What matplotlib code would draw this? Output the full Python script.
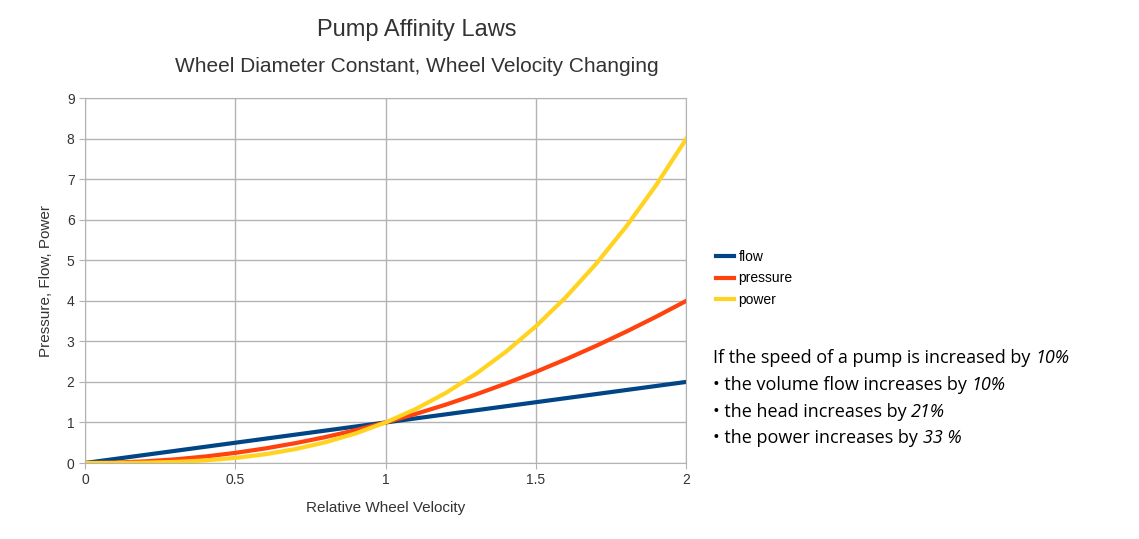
import matplotlib
matplotlib.use("Agg")
import matplotlib.pyplot as plt

# values
velocity = [0.0, 0.1, 0.2, 0.3, 0.4, 0.5, 0.6, 0.7, 0.8, 0.9, 1.0,
            1.1, 1.2, 1.3, 1.4, 1.5, 1.6, 1.7, 1.8, 1.9, 2.0]
flow = [0.0, 0.1, 0.2, 0.3, 0.4, 0.5, 0.6, 0.7, 0.8, 0.9, 1.0,
        1.1, 1.2, 1.3, 1.4, 1.5, 1.6, 1.7, 1.8, 1.9, 2.0]
pressure = [0.0, 0.01, 0.04, 0.09, 0.16, 0.25, 0.36, 0.49, 0.64, 0.81, 1.0,
            1.21, 1.44, 1.69, 1.96, 2.25, 2.56, 2.89, 3.24, 3.61, 4.0]
power = [0.0, 0.001, 0.008, 0.027, 0.064, 0.125, 0.216, 0.343, 0.512, 0.729, 1.0,
         1.331, 1.728, 2.197, 2.744, 3.375, 4.096, 4.913, 5.832, 6.859, 8.0]

series_names = ["flow", "pressure", "power"]
colors = ["#004586", "#ff420e", "#ffd320"]

notes = [
    ("If the speed of a pump is increased by ", "10%"),
    ("\u2022 the volume flow increases by ", "10%"),
    ("\u2022 the head increases by ", "21%"),
    ("\u2022 the power increases by ", "33 %"),
]

plt.rcParams["font.family"] = ["Liberation Sans", "DejaVu Sans"]

fig = plt.figure(figsize=(11.39, 5.39), dpi=100)
ax = fig.add_axes([0.0746, 0.141, 0.528, 0.677])

for ys, name, c in zip([flow, pressure, power], series_names, colors):
    ax.plot(velocity, ys, color=c, lw=3, label=name)

ax.set_xlim(0, 2)
ax.set_ylim(0, 9)
ax.set_xticks([0, 0.5, 1, 1.5, 2])
ax.set_xticklabels(["0", "0.5", "1", "1.5", "2"])
ax.set_yticks(range(10))
ax.grid(color="#b3b3b3", lw=1)
ax.set_axisbelow(True)
for s in ax.spines.values():
    s.set_color("#b3b3b3")
ax.tick_params(colors="#b3b3b3", labelcolor="#333333", labelsize=10, length=4)
ax.set_xlabel("Relative Wheel Velocity", fontsize=11, color="#333333", labelpad=10)
ax.set_ylabel("Pressure, Flow, Power", fontsize=11, color="#333333", labelpad=10)

fig.text(0.366, 0.944, "Pump Affinity Laws", ha="center", va="center",
         fontsize=17, color="#333333")
fig.text(0.366, 0.876, "Wheel Diameter Constant, Wheel Velocity Changing",
         ha="center", va="center", fontsize=15, color="#333333")

fig.legend(loc="upper left", bbox_to_anchor=(0.624, 0.547), frameon=False,
           fontsize=10, handlelength=1.3, handletextpad=0.3, labelspacing=0.55,
           borderaxespad=0)

# notes to the right, with the percentages in italics
y0 = 0.335
for i, (plain, ital) in enumerate(notes):
    t = fig.text(0.626, y0 - i * 0.0495, plain, fontsize=13,
                 family=["Open Sans", "DejaVu Sans"], va="center")
    ax.annotate(ital, xy=(1, 0.5), xycoords=t, va="center", ha="left",
                fontsize=13, style="italic",
                family=["Open Sans", "DejaVu Sans"], annotation_clip=False)

fig.savefig("out.png", dpi=100)
